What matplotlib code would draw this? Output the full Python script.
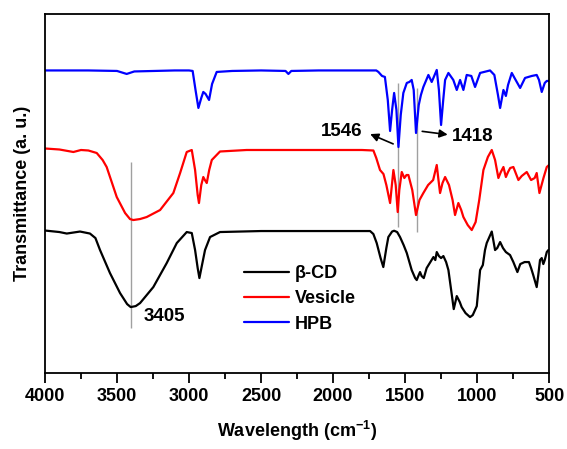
import matplotlib
matplotlib.use("Agg")
import matplotlib.pyplot as plt
import numpy as np
from matplotlib.ticker import MultipleLocator

plt.rcParams["font.family"] = ["Liberation Sans", "DejaVu Sans"]
plt.rcParams["font.weight"] = "bold"
plt.rcParams["mathtext.fontset"] = "custom"
plt.rcParams["mathtext.rm"] = "Liberation Sans:bold"
plt.rcParams["mathtext.bf"] = "Liberation Sans:bold"
plt.rcParams["mathtext.default"] = "bf"

# Spectra (wavenumber, transmittance a.u., stacked)
hpb_wn = [4000, 3700, 3500, 3433, 3380, 3100, 3000, 2975, 2955, 2935, 2915, 2901, 2885,
          2861, 2840, 2808, 2700, 2500, 2330, 2310, 2290, 2100, 1900, 1700, 1685, 1660,
          1640, 1620, 1604, 1590, 1576, 1560, 1546, 1530, 1512, 1500, 1488, 1470, 1454,
          1440, 1424, 1405, 1390, 1373, 1338, 1315, 1280, 1265, 1250, 1235, 1222, 1199,
          1165, 1141, 1118, 1095, 1072, 1040, 1014, 979, 910, 880, 855, 840, 817, 800,
          785, 759, 740, 701, 667, 620, 586, 570, 551, 530, 516, 500]
hpb_t = [302.5, 302.5, 302, 299, 301.5, 302.5, 302.5, 302, 283, 265, 275, 281, 279,
         273, 289, 301, 302, 302.5, 302, 299, 302, 302.5, 302.5, 302.5, 301, 297,
         296, 273, 242, 263, 280, 263, 226, 258, 280, 285, 290, 291, 293,
         283, 240, 268, 278, 286, 298, 291, 303, 283, 248, 273, 293, 300,
         293, 283, 293, 283, 298, 297, 286, 300, 302.5, 298, 278, 265, 283, 277,
         288, 300, 295, 285, 295, 297, 298, 293, 281, 290, 292, 292]

ves_wn = [4000, 3900, 3803, 3750, 3699, 3641, 3600, 3572, 3502, 3444, 3410, 3387, 3340,
          3294, 3201, 3109, 3062, 3016, 2981, 2958, 2940, 2931, 2915, 2901, 2890, 2877,
          2860, 2842, 2785, 2600, 2400, 2200, 2000, 1800, 1720, 1700, 1674, 1650, 1630,
          1604, 1581, 1565, 1551, 1540, 1523, 1505, 1490, 1477, 1450, 1424, 1400, 1373,
          1340, 1326, 1305, 1280, 1268, 1257, 1240, 1222, 1195, 1170, 1153, 1130, 1110,
          1095, 1065, 1037, 1010, 985, 956, 925, 898, 875, 852, 835, 817, 800, 785, 770,
          748, 713, 690, 655, 625, 600, 586, 567, 539, 516, 500]
ves_t = [224.5, 223.5, 221, 223, 222.5, 220, 213, 206, 176, 160, 154, 153, 154,
         156, 163, 180, 200, 221, 223, 203, 178, 170, 188, 196, 193, 190,
         203, 213, 221.5, 223, 223, 223, 223, 223, 222.5, 215, 203, 199, 188,
         170, 203, 188, 161, 183, 201, 195, 198, 198, 183, 158, 173, 180,
         188, 190, 193, 208, 193, 180, 190, 196, 188, 173, 158, 170, 163,
         156, 148, 143, 151, 173, 203, 216, 223, 213, 195, 201, 206, 196, 201, 205,
         206, 193, 197, 201, 193, 195, 200, 180, 195, 206, 208]

bcd_wn = [4000, 3900, 3849, 3757, 3688, 3650, 3618, 3549, 3479, 3430, 3405, 3370, 3340,
          3248, 3155, 3085, 3016, 2981, 2958, 2940, 2928, 2910, 2889, 2854, 2785, 2500,
          2000, 1743, 1720, 1697, 1670, 1651, 1630, 1616, 1590, 1576, 1555, 1535, 1510,
          1488, 1454, 1430, 1419, 1408, 1396, 1385, 1370, 1350, 1303, 1290, 1280, 1265,
          1250, 1234, 1215, 1199, 1180, 1162, 1141, 1120, 1107, 1080, 1049, 1030, 1002,
          979, 960, 945, 933, 898, 875, 860, 840, 820, 800, 771, 748, 720, 700, 670, 640,
          625, 610, 586, 575, 563, 551, 540, 530, 516, 505]
bcd_t = [142.5, 141, 139.5, 141.5, 139.5, 135, 123, 100, 80, 69, 66, 67, 70,
         86, 110, 130, 141, 140, 123, 105, 95, 108, 123, 136, 141, 142,
         142, 142, 139, 130, 115, 106, 125, 136, 141.5, 142.3, 141, 136, 128,
         120, 103, 95, 93, 97, 101, 97, 95, 105, 116, 113, 121, 117,
         115, 117, 111, 103, 83, 64, 77, 71, 66, 60, 56, 58, 67,
         103, 108, 123, 130, 141.5, 123, 125, 131, 125, 121, 118, 111, 101, 109, 111, 111,
         105, 98, 86, 98, 113, 115, 109, 113, 121, 123]

series = [("β-CD", bcd_wn, bcd_t, "black"),
          ("Vesicle", ves_wn, ves_t, "#ff0000"),
          ("HPB", hpb_wn, hpb_t, "#0000ff")]

# marker lines: (wavenumber, bottom, top)
marks = [(3405, 45, 211), (1546, 146, 290), (1418, 141, 285)]

fig = plt.figure(figsize=(5.67, 4.49), dpi=100)
ax = fig.add_axes([0.0794, 0.169, 0.889, 0.800])

for wn, lo, hi in marks:
    ax.vlines(wn, lo, hi, color="#a0a0a0", lw=1.0, zorder=1)

for name, wn, t, col in series:
    ax.plot(wn, t, color=col, lw=1.6, label=name, zorder=2,
            solid_joinstyle="round", solid_capstyle="round")

ax.text(3174, 57, "3405", fontsize=13.5, ha="center", va="center")
ax.text(1941, 241, "1546", fontsize=13.5, ha="center", va="center")
ax.text(1028, 236, "1418", fontsize=13.5, ha="center", va="center")
ax.annotate("", xy=(1760, 240), xytext=(1565, 228),
            arrowprops=dict(arrowstyle="-|>", color="black", lw=1.2, mutation_scale=12))
ax.annotate("", xy=(1185, 238), xytext=(1400, 242),
            arrowprops=dict(arrowstyle="-|>", color="black", lw=1.2, mutation_scale=12))

ax.set_xlim(4000, 500)
ax.set_ylim(0, 359)
ax.xaxis.set_major_locator(MultipleLocator(500))
ax.xaxis.set_minor_locator(MultipleLocator(250))
ax.set_yticks([])
ax.tick_params(axis="x", which="major", direction="out", length=7, width=1.3, labelsize=13)
ax.tick_params(axis="x", which="minor", direction="out", length=4, width=1.3)
for s in ax.spines.values():
    s.set_linewidth(1.3)

ax.set_xlabel(r"Wavelength (cm$^{-1}$)", fontsize=13, fontweight="bold", labelpad=10)
ax.set_ylabel("Transmittance (a. u.)", fontsize=13, fontweight="bold", labelpad=10)

ax.legend(loc="upper left", bbox_to_anchor=(0.395, 0.30), frameon=False, fontsize=13,
          handlelength=2.5, handletextpad=0.3, labelspacing=0.45, borderpad=0,
          borderaxespad=0)

fig.savefig("out.png", dpi=100)
